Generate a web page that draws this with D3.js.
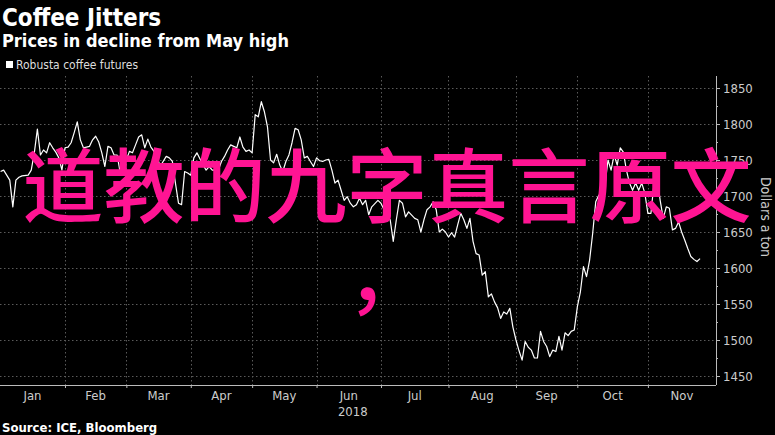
<!DOCTYPE html>
<html><head><meta charset="utf-8">
<script src="https://cdn.jsdelivr.net/npm/d3@7"></script>
<style>
html,body{margin:0;padding:0;background:#000;}
svg{display:block;}
</style></head>
<body><svg id="c" width="775" height="435"></svg>
<script>
const title = "Coffee Jitters";
const subtitle = "Prices in decline from May high";
const seriesName = "Robusta coffee futures";
const source = "Source: ICE, Bloomberg";
const yTitle = "Dollars a ton";
const overlayLines = ["道教的九字真言原文", "，"];
const yearLabel = "2018";

// trading-day index (0 = 2 Jan 2018)
const monthLabels = ["Jan","Feb","Mar","Apr","May","Jun","Jul","Aug","Sep","Oct","Nov"];
const monthStarts = [0,22,42,63,83,104,125,147,169,189,212];
const yTicks = [1450,1500,1550,1600,1650,1700,1750,1800,1850];
const yMinorTicks = [1475,1525,1575,1625,1675,1725,1775,1825];

const days = [1,2,3,4,5,6,7,8,10,11,12,13,14,15,16,17,18,19,20,21,22,23,24,25,26,27,28,29,30,31,32,33,34,35,36,37,38,39,40,42,43,44,45,46,47,48,49,50,51,52,53,55,56,57,58,59,60,61,62,63,64,65,67,68,69,70,72,73,74,75,76,77,78,79,80,81,82,83,84,85,86,87,88,89,90,91,92,93,94,95,96,97,98,99,100,101,102,103,104,105,106,107,108,109,110,111,112,113,114,115,116,117,118,119,120,121,122,124,125,126,127,128,129,130,131,132,133,134,136,137,138,139,140,141,142,143,144,145,146,147,148,149,150,151,152,153,154,155,156,157,158,159,160,161,162,163,164,165,166,167,168,169,170,171,172,173,174,175,176,177,178,179,180,181,182,183,184,185,186,187,188,189,190,191,192,193,194,195,196,197,198,199,200,201,202,203,204,205,206,207,208,209,210,211,212,213,214,215,216,217,218,219,220,221,222,223,224,225,226,227,228,229];
const prices = [1734,1736,1729,1722,1685,1722,1726,1728,1729,1736,1760,1793,1757,1764,1760,1774,1767,1761,1753,1736,1767,1768,1774,1788,1803,1778,1767,1768,1769,1778,1783,1775,1760,1741,1769,1767,1757,1757,1732,1750,1762,1760,1771,1782,1785,1767,1779,1768,1762,1755,1741,1755,1753,1748,1718,1690,1688,1734,1732,1729,1753,1760,1743,1736,1741,1736,1736,1748,1755,1764,1771,1769,1767,1782,1768,1762,1764,1760,1813,1810,1831,1817,1796,1750,1746,1758,1743,1734,1748,1757,1774,1794,1792,1778,1753,1755,1748,1741,1753,1749,1748,1750,1751,1736,1718,1722,1708,1694,1699,1690,1685,1688,1697,1688,1694,1674,1685,1694,1690,1681,1671,1667,1637,1667,1694,1690,1671,1678,1669,1667,1650,1667,1681,1685,1692,1681,1650,1654,1650,1643,1649,1643,1660,1676,1667,1655,1669,1637,1620,1618,1590,1595,1560,1564,1553,1545,1530,1539,1536,1544,1518,1500,1485,1472,1498,1490,1486,1475,1475,1512,1498,1491,1477,1486,1484,1505,1486,1510,1506,1512,1514,1546,1567,1602,1588,1611,1648,1692,1701,1704,1715,1750,1736,1757,1743,1767,1761,1736,1718,1708,1718,1708,1718,1704,1676,1676,1718,1727,1694,1669,1685,1683,1653,1655,1664,1650,1639,1627,1616,1612,1609,1613];

const W = 775, H = 435;
const plot = {left: 0, right: 716, top: 76, bottom: 385};
const svg = d3.select("#c");
svg.append("rect").attr("width", W).attr("height", H).attr("fill", "#000");

const x = d3.scaleLinear().domain([0.815, 234.2]).range([plot.left, plot.right]);
const y = d3.scaleLinear().domain([1437.5, 1866.7]).range([plot.bottom, plot.top]);

const cond = "'DejaVu Sans Condensed', 'DejaVu Sans', sans-serif";

// Titles
svg.append("text").attr("x", 2).attr("y", 26).attr("fill", "#fff")
  .style("font-family", cond).style("font-weight", "bold").style("font-size", "24px").text(title);
svg.append("text").attr("x", 2).attr("y", 47).attr("fill", "#fff")
  .style("font-family", cond).style("font-weight", "bold").style("font-size", "18px").text(subtitle);

// Legend
svg.append("rect").attr("x", 6).attr("y", 61).attr("width", 7).attr("height", 7).attr("fill", "#fff");
svg.append("text").attr("x", 16).attr("y", 69).attr("fill", "#ddd")
  .style("font-family", cond).style("font-size", "12px").text(seriesName);

// Grid
const g = svg.append("g");
g.selectAll("line.hg").data(yTicks).join("line").attr("class", "hg")
  .attr("x1", plot.left).attr("x2", plot.right)
  .attr("y1", d => Math.round(y(d)) + 0.5).attr("y2", d => Math.round(y(d)) + 0.5)
  .attr("stroke", "#5a5a5a").attr("stroke-width", 1).attr("stroke-dasharray", "1.5,2.5");
g.selectAll("line.vg").data(monthStarts.slice(1)).join("line").attr("class", "vg")
  .attr("x1", d => Math.round(x(d)) + 0.5).attr("x2", d => Math.round(x(d)) + 0.5)
  .attr("y1", plot.top).attr("y2", plot.bottom)
  .attr("stroke", "#5a5a5a").attr("stroke-width", 1).attr("stroke-dasharray", "1.5,2.5");

// X axis
const xAxis = d3.axisBottom(x).tickValues(monthStarts.slice(1)).tickSize(3).tickFormat("");
const xg = svg.append("g").attr("transform", `translate(0,${plot.bottom})`).call(xAxis);
xg.select(".domain").attr("stroke", "#bbb").attr("d", `M${plot.left},0.5H${plot.right}`);
xg.selectAll(".tick line").attr("stroke", "#bbb");

const bounds = monthStarts.map(d => Math.max(plot.left, x(d))).concat([plot.right]);
svg.append("g").selectAll("text").data(monthLabels).join("text")
  .attr("x", (d, i) => (bounds[i] + bounds[i + 1]) / 2).attr("y", 400)
  .attr("text-anchor", "middle").attr("fill", "#ccc")
  .style("font-family", cond).style("font-size", "13px").text(d => d);
svg.append("text").attr("x", (bounds[5] + bounds[6]) / 2 + 4).attr("y", 416)
  .attr("text-anchor", "middle").attr("fill", "#ccc")
  .style("font-family", cond).style("font-size", "13px").text(yearLabel);

// Y axis
const yAxis = d3.axisRight(y).tickValues(yTicks).tickSize(4).tickPadding(3).tickFormat(d3.format("d"));
const yg = svg.append("g").attr("transform", `translate(${plot.right},0)`).call(yAxis);
yg.select(".domain").attr("stroke", "#bbb").attr("d", `M0.5,${plot.top}V${plot.bottom}`);
yg.selectAll(".tick line").attr("stroke", "#bbb");
yg.selectAll(".tick text").attr("fill", "#ccc").style("font-family", cond).style("font-size", "13px");
const ymAxis = d3.axisRight(y).tickValues(yMinorTicks).tickSize(2).tickFormat("");
const ymg = svg.append("g").attr("transform", `translate(${plot.right},0)`).call(ymAxis);
ymg.select(".domain").remove();
ymg.selectAll(".tick line").attr("stroke", "#bbb");

svg.append("text").attr("transform", `translate(761,217) rotate(90)`)
  .attr("text-anchor", "middle").attr("fill", "#ccc")
  .style("font-family", cond).style("font-size", "14px").text(yTitle);

// Line
svg.append("clipPath").attr("id", "clip").append("rect")
  .attr("x", plot.left).attr("y", plot.top - 10).attr("width", plot.right - plot.left).attr("height", plot.bottom - plot.top + 10);
const pts = days.map((d, i) => [d, prices[i]]);
svg.append("path").datum(pts).attr("clip-path", "url(#clip)")
  .attr("fill", "none").attr("stroke", "#fff").attr("stroke-width", 1.2).attr("stroke-linejoin", "round")
  .attr("d", d3.line().x(d => x(d[0])).y(d => y(d[1])));

// Source
svg.append("text").attr("x", 2).attr("y", 432).attr("fill", "#fff")
  .style("font-family", cond).style("font-weight", "bold").style("font-size", "13px").text(source);

// Overlay text
svg.append("g").selectAll("text").data(overlayLines).join("text")
  .attr("x", 387).attr("y", (d, i) => 216 + i * 90)
  .attr("text-anchor", "middle").attr("fill", "#ff1493")
  .style("font-family", "'Noto Sans CJK SC', sans-serif").style("font-weight", "500").style("font-size", "81px").text(d => d);
</script></body></html>
